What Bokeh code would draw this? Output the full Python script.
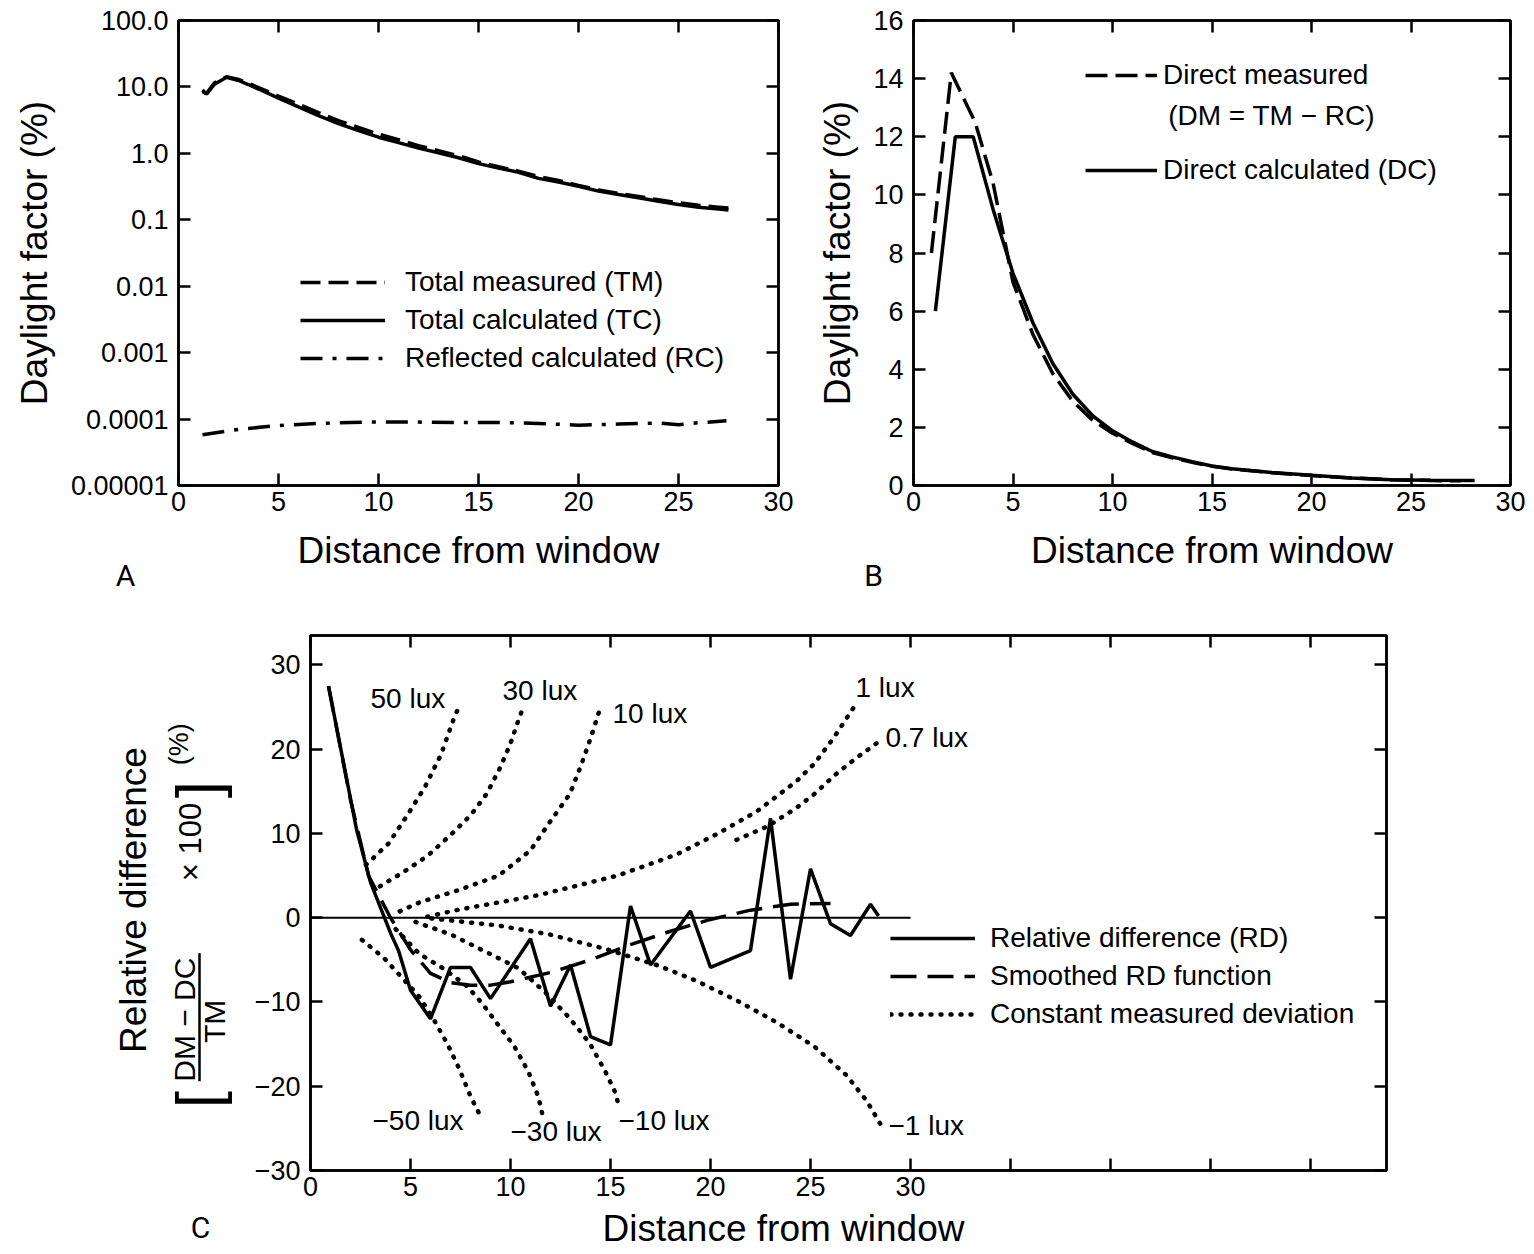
import numpy as np
from bokeh.plotting import figure
from bokeh.models import (Legend, LegendItem, LinearAxis, LogAxis,
                          FixedTicker, CustomJSTickFormatter)
from bokeh.layouts import column, row
from bokeh.embed import file_html
from bokeh.resources import INLINE
from bokeh.core.properties import value

FONT = "Liberation Sans"
LETTER_FONT = "Roboto"

# ---------------- Panel A data (log scale) ----------------
a_x = [1.2, 1.4, 1.8, 2.4, 3, 4, 5, 6, 7, 8, 9, 10, 11, 12, 13, 14, 15, 16,
       17, 18, 19, 20, 21, 22, 23, 24, 25, 26, 27, 27.5]
a_tm = [8.5, 8.0, 11.5, 14.2, 13.0, 9.8, 7.3, 5.5, 4.1, 3.1, 2.45, 1.95, 1.6,
        1.3, 1.1, 0.92, 0.74, 0.63, 0.54, 0.45, 0.39, 0.33, 0.28, 0.25, 0.225,
        0.2, 0.18, 0.165, 0.155, 0.15]
a_tc = [9.0, 7.8, 11.0, 14.0, 12.5, 9.3, 6.8, 5.0, 3.7, 2.8, 2.2, 1.75, 1.45,
        1.2, 1.02, 0.86, 0.7, 0.6, 0.52, 0.42, 0.37, 0.32, 0.27, 0.24, 0.215,
        0.19, 0.17, 0.155, 0.145, 0.14]
a_rc_x = [1.2, 3, 5, 7, 9.5, 12, 14, 16, 18, 20, 22, 24, 25, 26, 27.4]
a_rc = [5.8e-5, 7.0e-5, 8.0e-5, 8.6e-5, 9.0e-5, 9.0e-5, 8.9e-5, 8.9e-5,
        8.6e-5, 8.1e-5, 8.4e-5, 8.7e-5, 8.2e-5, 8.8e-5, 9.4e-5]
a_yticks = [1e-5, 1e-4, 1e-3, 1e-2, 1e-1, 1, 10, 100]
a_ylabels = ["0.00001", "0.0001", "0.001", "0.01", "0.1", "1.0", "10.0", "100.0"]

# ---------------- Panel B data ----------------
b_dm_x = [0.9, 1.9, 3.1, 4, 5, 6, 7, 8, 9, 10, 11, 12, 13, 14, 15, 16, 18,
          20, 22, 24, 26, 27.5]
b_dm = [8.0, 14.2, 12.5, 10.4, 7.0, 5.2, 3.85, 2.9, 2.25, 1.8, 1.45, 1.13,
        0.95, 0.8, 0.66, 0.57, 0.44, 0.34, 0.26, 0.2, 0.17, 0.16]
b_dc_x = [1.1, 2.1, 3.0, 4, 5, 6, 7, 8, 9, 10, 11, 12, 13, 14, 15, 16, 18,
          20, 22, 24, 26, 28.2]
b_dc = [6.0, 12.0, 12.0, 9.5, 7.3, 5.6, 4.2, 3.15, 2.4, 1.88, 1.5, 1.17,
        0.98, 0.82, 0.67, 0.58, 0.45, 0.35, 0.26, 0.2, 0.18, 0.17]
b_yticks = [0, 2, 4, 6, 8, 10, 12, 14, 16]

# ---------------- Panel C data ----------------
rd_x = [0.9, 2.3, 3.0, 4.0, 4.4, 5.0, 6.0, 7.0, 8.0, 9.0, 11.0, 12.0, 13.0,
        14.0, 15.0, 16.0, 17.0, 19.0, 20.0, 22.0, 23.0, 24.0, 25.0, 26.0,
        27.0, 28.0, 28.4]
rd_y = [27.5, 10.5, 4.2, -1.8, -3.9, -8.6, -12.0, -5.9, -5.9, -9.6, -2.5,
        -10.5, -5.6, -14.1, -15.1, 1.4, -5.6, 0.8, -5.9, -3.9, 11.8, -7.3,
        5.8, -0.7, -2.1, 1.6, 0.2]
srd_x = [0.9, 2.0, 2.9, 4.0, 5.0, 6.0, 7.0, 8.0, 9.0, 10, 12, 14, 16, 18, 20,
         22, 24, 26]
srd_y = [27.5, 14.0, 5.0, 0.0, -3.8, -6.6, -7.7, -8.0, -8.0, -7.6, -6.5,
         -5.0, -3.2, -1.6, -0.2, 0.9, 1.6, 1.7]
zero_x = [0, 30]
zero_y = [0, 0]

p50_x = [2.77, 3.90, 4.85, 5.74, 6.53, 7.13, 7.43]
p50_y = [6.27, 8.81, 12.2, 15.6, 19.4, 23.4, 25.1]
p30_x = [3.47, 4.65, 5.84, 7.03, 8.02, 8.81, 9.50, 10.0, 10.36, 10.59]
p30_y = [3.73, 5.42, 7.33, 9.87, 12.2, 14.7, 17.9, 20.7, 23.2, 24.7]
p10_x = [4.46, 5.45, 7.43, 9.41, 10.99, 11.98, 12.97, 13.56, 14.06, 14.46]
p10_y = [0.76, 1.82, 3.3, 5.0, 7.97, 11.4, 14.7, 18.3, 21.7, 24.7]
p1_x = [5.84, 7.43, 11.39, 15.35, 18.3, 20.3, 22.3, 24.3, 25.2, 26.2, 27.2]
p1_y = [0.13, 0.97, 2.67, 5.0, 7.5, 9.9, 12.6, 16.2, 18.3, 21.5, 25.1]
p07_x = [21.3, 22.9, 24.3, 25.2, 26.2, 27.2, 28.3]
p07_y = [9.24, 10.9, 13.05, 14.7, 16.9, 18.8, 20.7]
m50_x = [2.57, 3.66, 4.65, 5.45, 6.24, 6.83, 7.43, 8.02, 8.51]
m50_y = [-2.63, -4.75, -7.3, -9.4, -12.4, -14.9, -17.9, -21.3, -23.6]
m30_x = [4.26, 5.45, 6.63, 7.82, 8.61, 9.41, 10.2, 10.9, 11.4, 11.6]
m30_y = [-1.36, -4.3, -6.0, -8.1, -10.25, -12.8, -15.3, -18.3, -21.3, -23.4]
m10_x = [5.25, 7.03, 8.81, 10.4, 11.8, 12.97, 13.96, 14.75, 15.25, 15.45]
m10_y = [-0.5, -2.0, -4.1, -6.0, -9.0, -11.95, -14.9, -18.3, -20.8, -22.7]
m1_x = [6.04, 9.41, 11.98, 14.75, 17.3, 19.3, 21.3, 23.3, 25.2, 26.8, 27.8, 28.6]
m1_y = [-0.08, -0.93, -2.0, -3.7, -5.6, -7.5, -9.8, -12.4, -15.3, -18.7, -21.7, -24.9]

lux_labels = ["50 lux", "30 lux", "10 lux", "1 lux", "0.7 lux",
              "\u221250 lux", "\u221230 lux", "\u221210 lux", "\u22121 lux"]
c_yticks = [-30, -20, -10, 0, 10, 20, 30]
c_ylabels = ["\u221230", "\u221220", "\u221210", "0", "10", "20", "30"]
c_xticks = [0, 5, 10, 15, 20, 25, 30, 35, 40, 45, 50]
x_ticks = [0, 5, 10, 15, 20, 25, 30]

# label placement (layout, not data)
lux_lx = [3.0, 9.6, 15.1, 27.25, 28.75, 3.1, 10.0, 15.4, 28.9]
lux_ly = [26.0, 27.0, 24.3, 27.3, 21.4, -24.1, -25.4, -24.1, -24.7]

EMPTY = CustomJSTickFormatter(code="return ''")
TICK_FS = "27px"
TITLE_FS = "37px"
TEXT_FS = "28px"


def style(p):
    p.outline_line_color = "black"
    p.outline_line_width = 2.5
    p.grid.visible = False
    p.background_fill_color = "white"
    p.border_fill_color = "white"
    for ax in p.axis:
        ax.major_tick_in = 12
        ax.major_tick_out = 0
        ax.minor_tick_in = 0
        ax.minor_tick_out = 0
        ax.axis_line_width = 2.5
        ax.axis_line_color = "black"
        ax.major_tick_line_width = 2.5
        ax.major_tick_line_color = "black"
        ax.major_label_text_font = FONT
        ax.major_label_text_font_size = TICK_FS
        ax.major_label_text_color = "black"
        ax.axis_label_text_font = FONT
        ax.axis_label_text_font_size = TITLE_FS
        ax.axis_label_text_font_style = "normal"
        ax.axis_label_text_color = "black"
    for ax in p.right + p.above:
        ax.major_label_text_font_size = "1px"
        ax.major_label_standoff = 0


def legend(p, items, loc, gw, standoff, spacing):
    lg = Legend(items=items, location=loc, background_fill_alpha=0,
                border_line_alpha=0, label_text_font=FONT,
                label_text_font_size=TEXT_FS, label_text_color="black",
                glyph_width=gw, glyph_height=30,
                label_height=30, label_standoff=standoff, padding=0, margin=0,
                spacing=spacing)
    p.add_layout(lg)


def free_text(p, x, y, text, size, angle=0.0, align="center", font=FONT):
    p.text(x=[x], y=[y], text=[text], angle=angle, text_font=value(font),
           text_font_size=size, text_align=align, text_baseline="middle",
           text_color="black", level="overlay")


# ================= Panel A =================
pA = figure(frame_width=600, frame_height=465, x_range=(0, 30),
            y_range=(1e-5, 100), y_axis_type="log", output_backend="svg",
            toolbar_location=None, min_border_left=178, min_border_right=30,
            min_border_top=20, min_border_bottom=115)
pA.below[0].ticker = FixedTicker(ticks=x_ticks)
pA.left[0].ticker = FixedTicker(ticks=a_yticks)
pA.left[0].formatter = CustomJSTickFormatter(
    args=dict(labels=a_ylabels),
    code="return labels[Math.round(Math.log10(tick)) + 5]")
pA.add_layout(LogAxis(ticker=FixedTicker(ticks=a_yticks), formatter=EMPTY), "right")
pA.add_layout(LinearAxis(ticker=FixedTicker(ticks=x_ticks), formatter=EMPTY), "above")
pA.below[0].axis_label = "Distance from window"
pA.left[0].axis_label = "Daylight factor (%)"
style(pA)
pA.below[0].major_label_standoff = 6
pA.left[0].major_label_standoff = 10
pA.below[0].axis_label_standoff = 16
pA.left[0].axis_label_standoff = 13

rTM = pA.line(a_x, a_tm, line_color="black", line_width=3.5, line_dash="20 8")
rTC = pA.line(a_x, a_tc, line_color="black", line_width=3.5)
rRC = pA.line(a_rc_x, a_rc, line_color="black", line_width=3.5,
              line_dash="22 10 4 10")
legend(pA, [LegendItem(label="Total measured (TM)", renderers=[rTM]),
            LegendItem(label="Total calculated (TC)", renderers=[rTC]),
            LegendItem(label="Reflected calculated (RC)", renderers=[rRC])],
       (122, 111), 85, 20, 6)
free_text(pA, -2.65, 10 ** -6.35, "A", "30px", font=LETTER_FONT)

# ================= Panel B =================
pB = figure(frame_width=597, frame_height=465, x_range=(0, 30),
            y_range=(0, 16), output_backend="svg", toolbar_location=None,
            min_border_left=105, min_border_right=16, min_border_top=20,
            min_border_bottom=115)
pB.below[0].ticker = FixedTicker(ticks=x_ticks)
pB.left[0].ticker = FixedTicker(ticks=b_yticks)
pB.add_layout(LinearAxis(ticker=FixedTicker(ticks=b_yticks), formatter=EMPTY), "right")
pB.add_layout(LinearAxis(ticker=FixedTicker(ticks=x_ticks), formatter=EMPTY), "above")
pB.below[0].axis_label = "Distance from window"
pB.left[0].axis_label = "Daylight factor (%)"
style(pB)
pB.below[0].major_label_standoff = 6
pB.left[0].major_label_standoff = 10
pB.below[0].axis_label_standoff = 16
pB.left[0].axis_label_standoff = 12

rDM = pB.line(b_dm_x, b_dm, line_color="black", line_width=3.5, line_dash="22 8")
rDC = pB.line(b_dc_x, b_dc, line_color="black", line_width=3.5)
legend(pB, [LegendItem(label="Direct measured", renderers=[rDM]),
            LegendItem(label="Direct calculated (DC)", renderers=[rDC])],
       (172, 299), 72, 6, 63)
free_text(pB, 12.8, 12.73, "(DM = TM \u2212 RC)", TEXT_FS, align="left")
free_text(pB, -2.0, -3.1, "B", "30px", font=LETTER_FONT)

# ================= Panel C =================
pC = figure(frame_width=1076, frame_height=535, x_range=(0, 53.8),
            y_range=(-30, 33.5), output_backend="svg", toolbar_location=None,
            min_border_left=310, min_border_right=132, min_border_top=35,
            min_border_bottom=82)
pC.below[0].ticker = FixedTicker(ticks=c_xticks)
pC.below[0].major_label_overrides = {35: "", 40: "", 45: "", 50: ""}
pC.left[0].ticker = FixedTicker(ticks=c_yticks)
pC.left[0].major_label_overrides = dict(zip(c_yticks, c_ylabels))
pC.add_layout(LinearAxis(ticker=FixedTicker(ticks=c_yticks), formatter=EMPTY), "right")
pC.add_layout(LinearAxis(ticker=FixedTicker(ticks=c_xticks), formatter=EMPTY), "above")
style(pC)
pC.below[0].major_label_standoff = 6
pC.left[0].major_label_standoff = 10

pC.line(zero_x, zero_y, line_color="black", line_width=1.8)
DOT = dict(line_color="black", line_width=4.5, line_dash="1 9", line_cap="round")
rDot = None
for xs, ys in [(p50_x, p50_y), (p30_x, p30_y), (p10_x, p10_y), (p1_x, p1_y),
               (p07_x, p07_y), (m50_x, m50_y), (m30_x, m30_y),
               (m10_x, m10_y), (m1_x, m1_y)]:
    r = pC.line(xs, ys, **DOT)
    if rDot is None:
        rDot = r
rSRD = pC.line(srd_x, srd_y, line_color="black", line_width=3.5, line_dash="26 11")
rRD = pC.line(rd_x, rd_y, line_color="black", line_width=3.5)
pC.text(x=lux_lx, y=lux_ly, text=lux_labels, text_font=value(FONT),
        text_font_size=TEXT_FS, text_baseline="middle", text_align="left",
        text_color="black")
legend(pC, [LegendItem(label="Relative difference (RD)", renderers=[rRD]),
            LegendItem(label="Smoothed RD function", renderers=[rSRD]),
            LegendItem(label="Constant measured deviation", renderers=[rDot])],
       (580, 140), 85, 15, 6)

# custom axis titles for C
free_text(pC, 23.65, -36.9, "Distance from window", TITLE_FS)
free_text(pC, -5.5, -36.8, "C", "30px", font=LETTER_FONT)
R = np.pi / 2
free_text(pC, -8.85, 2.1, "Relative difference", TITLE_FS, angle=R)
free_text(pC, -6.3, -12.1, "DM \u2212 DC", "30px", angle=R)
free_text(pC, -4.8, -12.3, "TM", "30px", angle=R)
free_text(pC, -6.0, 9.0, "\u00d7 100", "31px", angle=R)
free_text(pC, -5.65, -21.6, "[", "62px", angle=R)
free_text(pC, -5.65, 15.2, "]", "62px", angle=R)
free_text(pC, -6.6, 20.6, "(%)", "27px", angle=R)
frac_bar_x = [-5.55, -5.55]
frac_bar_y = [-4.2, -19.4]
pC.segment(x0=[frac_bar_x[0]], y0=[frac_bar_y[0]], x1=[frac_bar_x[1]],
           y1=[frac_bar_y[1]], line_color="black", line_width=2.5, level="overlay")

layout = column(row(pA, pB, spacing=0), pC, spacing=0)
open("out.html", "w").write(file_html(layout, INLINE))
